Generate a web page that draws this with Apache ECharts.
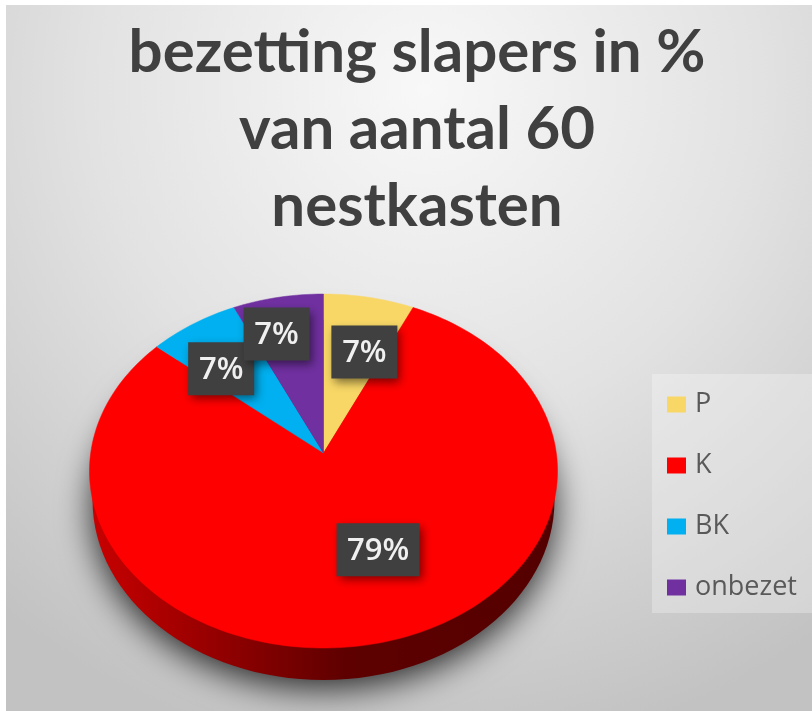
<!DOCTYPE html>
<html>
<head>
<meta charset="utf-8">
<style>html,body{margin:0;padding:0;background:#fff}#c{width:812px;height:711px}</style>
<script src="https://cdn.jsdelivr.net/npm/echarts@6/dist/echarts.min.js"></script>
</head>
<body>
<div id="c"></div>
<script>
const categories = ['P', 'K', 'BK', 'onbezet'];
const values = [7, 79, 7, 7];
const sliceColors = ['#F8D766', '#FF0000', '#00B0F0', '#7030A0'];
const titleText = 'bezetting slapers in %\nvan aantal 60\nnestkasten';

// Layout of the tilted pie
const apex = { x: 323.5, y: 453 };
const rim = { x: 323.5, y: 471, rx: 234, ry: 177 };
const wall = { x: 323.5, y: 500, rx: 231, ry: 180 };
const perspective = 0.89;
const labelPlace = [
  { f: 0.7, dx: 9, dy: 8 },
  { f: 0.5, dx: 26, dy: 2 },
  { f: 0.7, dx: -11, dy: 6 },
  { f: 0.7, dx: -15, dy: -10 }
];
const total = values.reduce((a, b) => a + b, 0);
const sumBefore = i => values.slice(0, i).reduce((a, b) => a + b, 0);

function rimPoint(share) {
  const th = share * 2 * Math.PI;
  const t = 2 * Math.atan2(perspective * Math.sin(th / 2), Math.cos(th / 2));
  return [rim.x + rim.rx * Math.sin(t), rim.y - rim.ry * Math.cos(t)];
}

function sliceSeries(i) {
  return {
    name: categories[i],
    type: 'custom',
    coordinateSystem: 'none',
    silent: true,
    animation: false,
    itemStyle: { color: sliceColors[i] },
    data: [[values[i]]],
    renderItem: (params, api) => {
      const from = sumBefore(i) / total;
      const to = from + api.value(0) / total;
      const pts = [[apex.x, apex.y]];
      const n = Math.max(8, Math.round((to - from) * 240));
      for (let k = 0; k <= n; k++) pts.push(rimPoint(from + (to - from) * k / n));
      const color = api.visual('color');
      return {
        type: 'polygon',
        shape: { points: pts },
        style: { fill: color, stroke: color, lineWidth: 0.5 }
      };
    }
  };
}

const wallSeries = {
  name: 'wall',
  type: 'custom',
  coordinateSystem: 'none',
  silent: true,
  animation: false,
  data: [[values[1]]],
  renderItem: () => ({
    type: 'ellipse',
    shape: { cx: wall.x, cy: wall.y, rx: wall.rx, ry: wall.ry },
    style: {
      fill: new echarts.graphic.LinearGradient(0, 0, 1, 0, [
        { offset: 0, color: '#C80000' },
        { offset: 0.3, color: '#8E0000' },
        { offset: 0.55, color: '#5E0000' },
        { offset: 1, color: '#540000' }
      ]),
      shadowBlur: 34,
      shadowColor: 'rgba(0,0,0,0.8)',
      shadowOffsetY: 9
    }
  })
};

const labelSeries = {
  name: 'labels',
  type: 'custom',
  coordinateSystem: 'none',
  silent: true,
  animation: false,
  data: values.map((v, i) => [v, i]),
  renderItem: (params, api) => {
    const v = api.value(0), i = api.value(1);
    const mid = (sumBefore(i) + v / 2) / total;
    const p = rimPoint(mid), lp = labelPlace[i];
    const cx = apex.x + (p[0] - apex.x) * lp.f + lp.dx;
    const cy = apex.y + (p[1] - apex.y) * lp.f + lp.dy;
    const text = v + '%';
    const w = text.length > 2 ? 83 : 66, h = 53;
    return {
      type: 'group',
      children: [
        {
          type: 'rect',
          shape: { x: cx - w / 2, y: cy - h / 2, width: w, height: h },
          style: {
            fill: '#404040',
            shadowBlur: 9,
            shadowColor: 'rgba(0,0,0,0.5)',
            shadowOffsetX: 3,
            shadowOffsetY: 4
          }
        },
        {
          type: 'text',
          x: cx,
          y: cy + 1,
          style: {
            text: text,
            fill: '#F0F0F0',
            font: '600 31px "Open Sans"',
            align: 'center',
            verticalAlign: 'middle'
          }
        }
      ]
    };
  }
};

const chart = echarts.init(document.getElementById('c'), null, { renderer: 'canvas' });
chart.setOption({
  animation: false,
  backgroundColor: '#fff',
  graphic: [
    {
      type: 'rect', z: -2, silent: true,
      shape: { x: 6, y: 5, width: 806, height: 706 },
      style: {
        fill: new echarts.graphic.RadialGradient(0.52, 0.12, 0.95, [
          { offset: 0, color: '#F8F8F8' },
          { offset: 0.5, color: '#E2E2E2' },
          { offset: 1, color: '#C2C2C2' }
        ])
      }
    },
    {
      type: 'rect', z: -1, silent: true,
      shape: { x: 652, y: 374, width: 160, height: 239 },
      style: { fill: 'rgba(255,255,255,0.28)' }
    }
  ],
  title: {
    text: titleText,
    left: 412,
    top: 9,
    textAlign: 'center',
    textStyle: { fontFamily: 'Lato', fontWeight: 'bold', fontSize: 60, lineHeight: 77, color: '#404040' }
  },
  legend: {
    data: categories,
    orient: 'vertical',
    left: 667,
    top: 391,
    padding: 0,
    icon: 'rect',
    itemWidth: 19,
    itemHeight: 16,
    itemGap: 34,
    selectedMode: false,
    textStyle: { fontFamily: 'Open Sans', fontSize: 27, color: '#595959', padding: [0, 0, 0, 4] }
  },
  series: [wallSeries].concat(categories.map((c, i) => sliceSeries(i)), [labelSeries])
});
</script>
</body>
</html>
